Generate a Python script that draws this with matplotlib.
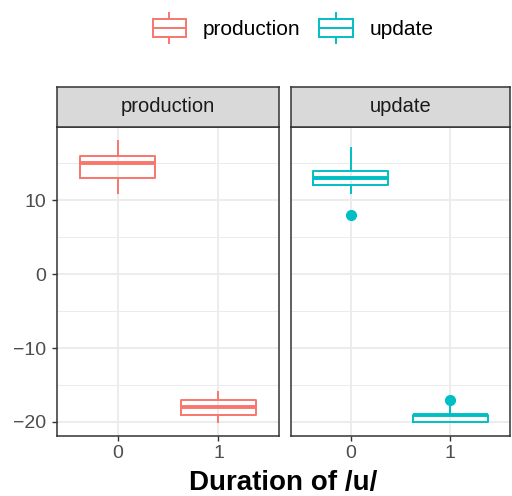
import matplotlib
matplotlib.use("Agg")
import matplotlib.pyplot as plt
from matplotlib.legend_handler import HandlerBase
from matplotlib.patches import Rectangle
from matplotlib.lines import Line2D

plt.rcParams["font.family"] = ["Liberation Sans", "DejaVu Sans"]

# data: five-number summaries
groups = ["production", "update"]
colors = {"production": "#F8766D", "update": "#00BFC4"}
durations = [0, 1]
whislo = {"production": [11, -20], "update": [11, -20]}
q1 = {"production": [13, -19], "update": [12, -20]}
med = {"production": [15, -18], "update": [13, -19]}
q3 = {"production": [16, -17], "update": [14, -19]}
whishi = {"production": [18, -16], "update": [17, -18]}
fliers = {"production": [[], []], "update": [[8], [-17]]}

yticks = [-20, -10, 0, 10]
yminor = [-15, -5, 5, 15]

W, H = 512, 496
fig = plt.figure(figsize=(W / 100, H / 100), dpi=100)

panel_x = [(57, 279), (291, 510)]
p_top, p_bot, s_top = 127, 436, 87
grid_c = "#EBEBEB"
dark = "#333333"

for i, g in enumerate(groups):
    x0, x1 = panel_x[i]
    ax = fig.add_axes([x0 / W, 1 - p_bot / H, (x1 - x0) / W, (p_bot - p_top) / H])
    stats = []
    for j in range(len(durations)):
        stats.append(dict(med=med[g][j], q1=q1[g][j], q3=q3[g][j],
                          whislo=whislo[g][j], whishi=whishi[g][j],
                          fliers=fliers[g][j]))
    c = colors[g]
    ax.bxp(stats, positions=durations, widths=0.75, showcaps=False,
           boxprops=dict(color=c, lw=1.4),
           whiskerprops=dict(color=c, lw=1.4),
           medianprops=dict(color=c, lw=2.8, solid_capstyle="butt"),
           flierprops=dict(marker="o", markerfacecolor=c, markeredgecolor=c,
                           markersize=7),
           zorder=3)
    ax.set_xlim(-0.6, 1.6)
    ax.set_ylim(-21.9, 19.9)
    ax.set_xticks(durations)
    ax.set_xticklabels([str(d) for d in durations])
    ax.set_yticks(yticks)
    ax.set_yticks(yminor, minor=True)
    ax.grid(True, which="major", color=grid_c, lw=1.3, zorder=0)
    ax.grid(True, which="minor", axis="y", color=grid_c, lw=0.7, zorder=0)
    ax.set_axisbelow(True)
    ax.tick_params(which="minor", length=0)
    ax.tick_params(which="major", length=3.5, width=1, color=dark,
                   labelsize=14, labelcolor="#4D4D4D", pad=3)
    ax.tick_params(axis="y", pad=4.5)
    if i == 0:
        ax.set_yticklabels(["\u221220", "\u221210", "0", "10"])
    else:
        ax.tick_params(axis="y", left=False, labelleft=False)
    for sp in ax.spines.values():
        sp.set_color(dark)
        sp.set_linewidth(1.1)

    sax = fig.add_axes([x0 / W, 1 - p_top / H, (x1 - x0) / W, (p_top - s_top) / H])
    sax.set_facecolor("#D9D9D9")
    sax.set_xticks([])
    sax.set_yticks([])
    for sp in sax.spines.values():
        sp.set_color(dark)
        sp.set_linewidth(1.1)
    sax.text(0.5, 0.5, g, ha="center", va="center", fontsize=14.5,
             color="#1A1A1A", transform=sax.transAxes)

fig.text((57 + 510) / 2 / W, 1 - 483 / H, "Duration of /u/", ha="center",
         va="center", fontsize=20, fontweight="bold")


class BoxHandler(HandlerBase):
    def create_artists(self, legend, orig_handle, xdescent, ydescent,
                       width, height, fontsize, trans):
        c = orig_handle.get_color()
        bw = width
        bx = -xdescent
        bh = height
        by = -ydescent
        rect = Rectangle((bx, by), bw, bh, facecolor="white", edgecolor=c,
                         lw=1.4, transform=trans)
        mid = Line2D([bx, bx + bw], [by + bh / 2] * 2, color=c, lw=1.4,
                     transform=trans)
        cx = bx + bw / 2
        top = Line2D([cx, cx], [by + bh, by + bh + height * 0.3], color=c,
                     lw=1.4, transform=trans)
        bot = Line2D([cx, cx], [by, by - height * 0.3], color=c, lw=1.4,
                     transform=trans)
        return [rect, mid, top, bot]


handles = [Line2D([], [], color=colors[g]) for g in groups]
fig.legend(handles, groups, loc="center", bbox_to_anchor=(293 / W, 1 - 29 / H),
           ncol=2, frameon=False, fontsize=15, handler_map={Line2D: BoxHandler()},
           handlelength=1.6, handleheight=1.0, handletextpad=0.8, columnspacing=0.9)

fig.savefig("out.png", dpi=100)
